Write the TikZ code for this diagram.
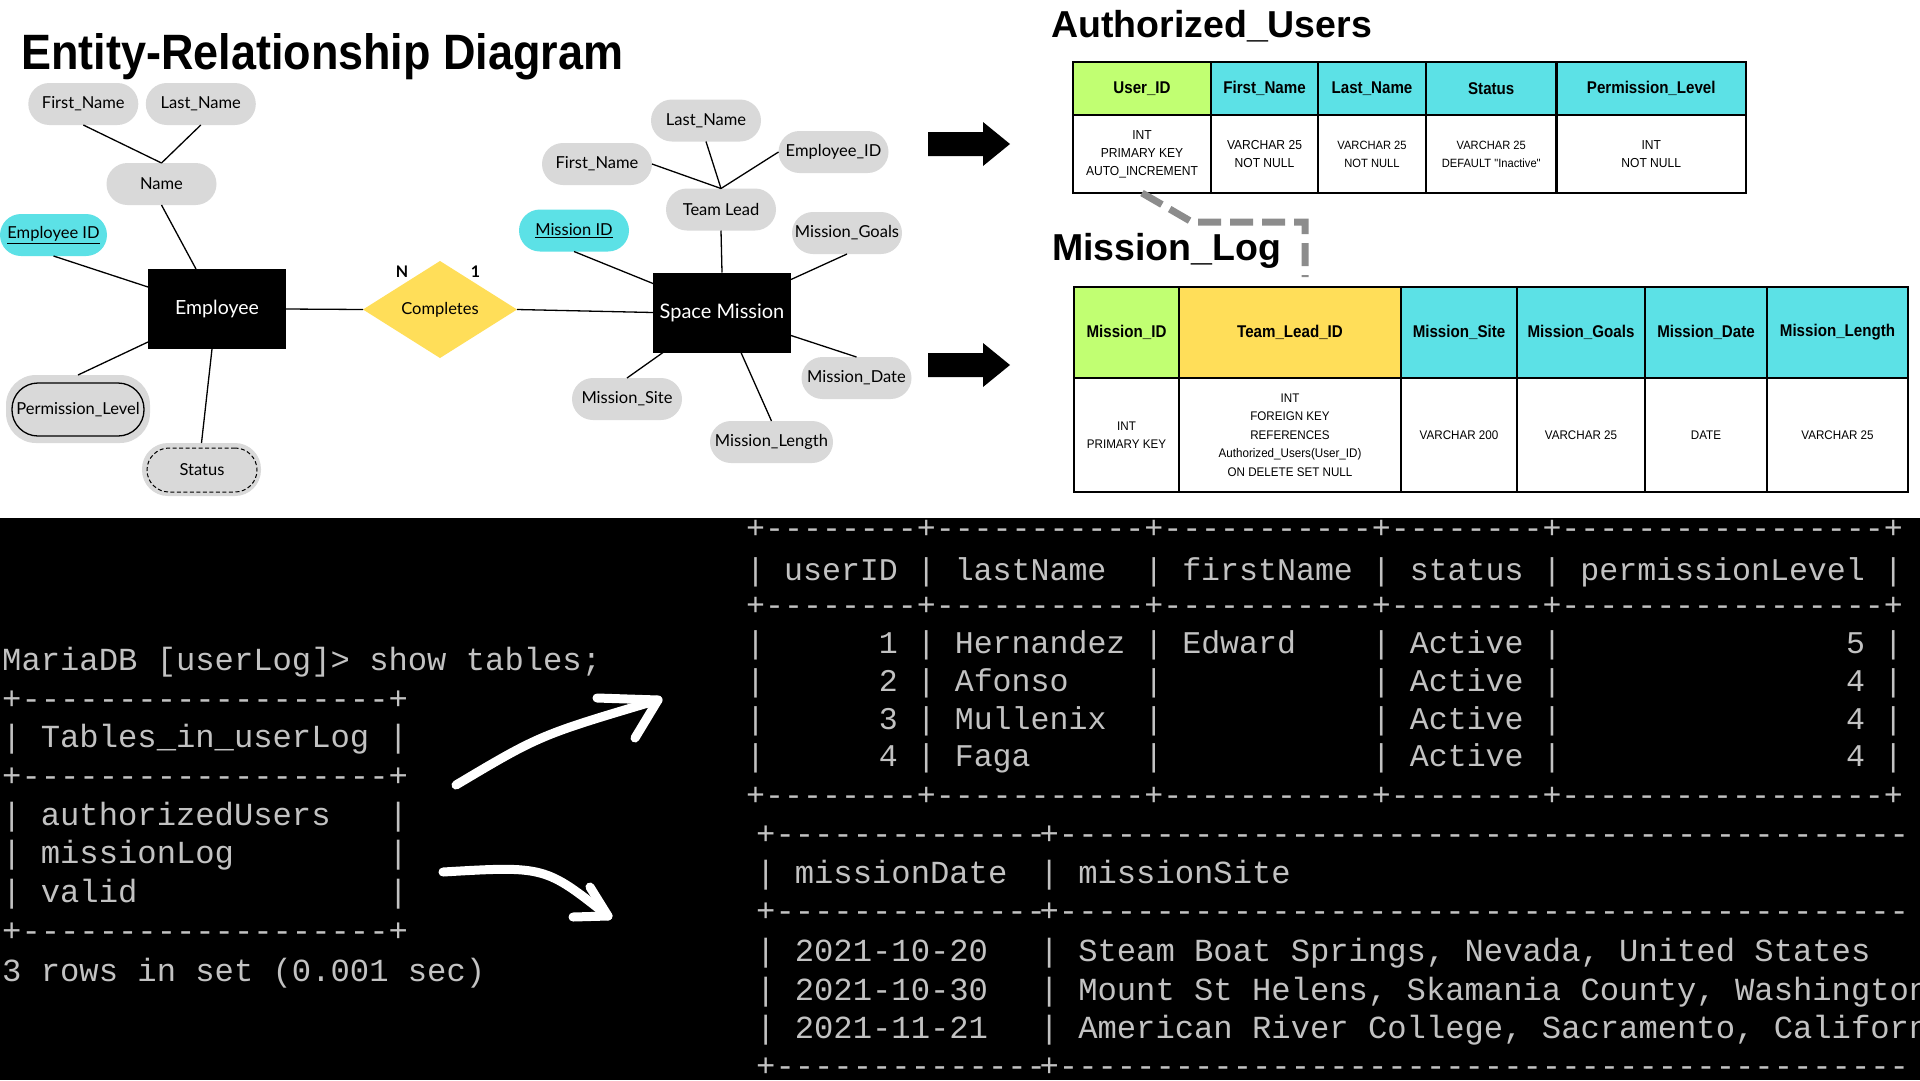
\documentclass[tikz,border=0pt]{standalone}
\usepackage{fontspec}
\usepackage{graphicx}
\usetikzlibrary{shapes.geometric}
\setmainfont{Liberation Sans}
\newfontfamily\erfont{Lato}
\newfontfamily\hdfont{Liberation Sans}[FakeStretch=0.89]
\newfontfamily\dtfont{Liberation Sans}[FakeStretch=0.93]
\newfontfamily\termfont{Liberation Mono}
\definecolor{ergray}{HTML}{D9D9D9}
\definecolor{ercyan}{HTML}{5CE1E6}
\definecolor{eryellow}{HTML}{FFDE59}
\definecolor{ergreen}{HTML}{C1FF72}
\definecolor{fkgray}{HTML}{8C8C8C}
\definecolor{termgray}{HTML}{C2C2C2}
\ExplSyntaxOn
\cs_new:Npn \dsh #1 { \prg_replicate:nn {#1} { -\kern0pt } }
\cs_new:Npn \spc #1 { \prg_replicate:nn {#1} { \nobreakspace } }
\ExplSyntaxOff
\frenchspacing
\begin{document}
\begin{tikzpicture}[x=1pt,y=-1pt,
  attr/.style={fill=ergray, rounded corners=21pt, minimum width=110pt, minimum height=42pt, inner sep=0pt, outer sep=0pt,
    font=\erfont\fontsize{16.5}{18}\selectfont},
  key/.style={attr, fill=ercyan},
  ent/.style={fill=black, text=white, minimum width=138pt, minimum height=80pt, inner sep=0pt, outer sep=0pt,
    font=\erfont\fontsize{19.5}{22}\selectfont},
  rel/.style={diamond, fill=eryellow, minimum width=154pt, minimum height=97pt, inner sep=0pt, outer sep=0pt,
    font=\erfont\fontsize{16.5}{18}\selectfont},
  card/.style={inner sep=0pt, font=\erfont\bfseries\fontsize{16}{18}\selectfont},
  conn/.style={draw=black, line width=1.3pt},
  cell/.style={draw=black, line width=2.5pt, anchor=north west, inner sep=0pt, outer sep=0pt, align=center},
  hcell/.style={cell, font=\hdfont\bfseries\fontsize{17}{20}\selectfont},
  dcell/.style={cell, fill=white, font=\dtfont\fontsize{13}{18}\selectfont},
  scell/.style={cell, fill=white, font=\dtfont\fontsize{12}{18}\selectfont},
  mcell/.style={cell, fill=white, font=\dtfont\fontsize{12.5}{18.4}\selectfont},
  fk/.style={draw=fkgray, line width=7pt, dash pattern=on 23pt off 9pt},
  blockarrow/.style={fill=black},
  warrow/.style={draw=white, line width=9pt, line cap=round, line join=round},
  termL/.style={anchor=base west, inner sep=0pt, text=termgray, font=\termfont\fontsize{32.2}{36}\selectfont},
  termR/.style={anchor=base west, inner sep=0pt, text=termgray, font=\termfont\fontsize{31.6}{36}\selectfont}
]
\useasboundingbox (0,0) rectangle (1920,1080);
\clip (0,0) rectangle (1920,1080);
\fill[white] (0,0) rectangle (1920,518);
\fill[black] (0,518) rectangle (1920,1080);

% ---------------- titles
\node[anchor=base west, inner sep=0pt] (ertitle) at (21,69) {\resizebox{602pt}{36pt}{\bfseries Entity-Relationship Diagram}};
\node[anchor=base west, inner sep=0pt, font=\bfseries\fontsize{37.5}{40}\selectfont] (autitle) at (1051,37) {Authorized\_Users};
\node[anchor=base west, inner sep=0pt, font=\bfseries\fontsize{37.5}{40}\selectfont] (mltitle) at (1052,260) {Mission\_Log};

% ---------------- ER: employee side
\node[attr] (fnL) at (83.3,104) {First\_Name};
\node[attr] (lnL) at (200.8,104) {Last\_Name};
\node[attr] (name) at (161.5,184) {Name};
\node[key, minimum width=107pt] (eid) at (53.5,235) {\underline{Employee ID}};
\node[ent] (emp) at (217,309) {Employee};
\node[rel] (rel) at (440,309.5) {Completes};
\node[card] (cardN) at (402,272) {N};
\node[card] (card1) at (475.5,272) {1};
\node[attr, minimum width=144pt, minimum height=68pt, rounded corners=30pt] (permO) at (78,409) {};
\node[attr, draw=black, line width=1.3pt, minimum width=132pt, minimum height=53pt, rounded corners=26pt] (perm) at (78,409.5) {Permission\_Level};
\node[attr, minimum width=119pt, minimum height=53pt, rounded corners=26pt] (statO) at (201.5,469.5) {};
\node[attr, draw=black, line width=1pt, dash pattern=on 4pt off 2.5pt, minimum width=110pt, minimum height=44pt, rounded corners=22pt] (stat) at (202,470) {Status};

% ---------------- ER: mission side
\node[attr] (lnR) at (706,120.5) {Last\_Name};
\node[attr] (fnR) at (597,164) {First\_Name};
\node[attr] (eidR) at (833.5,152) {Employee\_ID};
\node[attr] (tl) at (721,209.5) {Team Lead};
\node[key] (mid) at (574,230.5) {\underline{Mission ID}};
\node[ent, font=\erfont\fontsize{20}{22}\selectfont] (sm) at (722,312.5) {Space Mission};
\node[attr] (mg) at (847,233) {Mission\_Goals};
\node[attr] (md) at (856.5,378) {Mission\_Date};
\node[attr] (ms) at (627,399) {Mission\_Site};
\node[attr, minimum width=123pt] (ml) at (771.5,442) {Mission\_Length};

% ---------------- ER connectors
\draw[conn] (fnL.south) -- (name.north);
\draw[conn] (lnL.south) -- (name.north);
\draw[conn] (name.south) -- ([xshift=48pt]emp.north west);
\draw[conn] (eid.south) -- ([yshift=-18pt]emp.north west);
\draw[conn] (permO.north) -- ([yshift=7pt]emp.south west);
\draw[conn] (statO.north) -- ([xshift=64pt]emp.south west);
\draw[conn] (emp.east) -- (rel.west);
\draw[conn] (rel.east) -- (sm.west);
\draw[conn] (fnR.east) -- (tl.north);
\draw[conn] (lnR.south) -- (tl.north);
\draw[conn] (eidR.west) -- (tl.north);
\draw[conn] (tl.south) -- (sm.north);
\draw[conn] (mid.south) -- ([yshift=-11pt]sm.north west);
\draw[conn] (mg.south) -- ([yshift=-7pt]sm.north east);
\draw[conn] (md.north) -- ([yshift=17pt]sm.south east);
\draw[conn] (ms.north) -- ([xshift=10pt]sm.south west);
\draw[conn] (ml.north) -- ([xshift=88pt]sm.south west);

% ---------------- block arrows
\fill[blockarrow] (928,132) -- (983,132) -- (983,122) -- (1010,144) -- (983,166) -- (983,156) -- (928,156) -- cycle;
\fill[blockarrow] (928,353) -- (983,353) -- (983,343) -- (1010,365) -- (983,387) -- (983,377) -- (928,377) -- cycle;

% ---------------- Authorized_Users table
\node[hcell, fill=ergreen, minimum width=138pt, minimum height=53pt] (auH1) at (1073,62) {User\_ID};
\node[hcell, fill=ercyan, minimum width=107pt, minimum height=53pt] (auH2) at (1211,62) {First\_Name};
\node[hcell, fill=ercyan, minimum width=108pt, minimum height=53pt] (auH3) at (1318,62) {Last\_Name};
\node[hcell, fill=ercyan, minimum width=130.5pt, minimum height=53pt] (auH4) at (1426,62) {Status};
\node[hcell, fill=ercyan, minimum width=189.5pt, minimum height=53pt] (auH5) at (1556.5,62) {Permission\_Level};
\node[dcell, minimum width=138pt, minimum height=78pt] (auD1) at (1073,115) {INT\\PRIMARY KEY\\AUTO\_INCREMENT};
\node[dcell, minimum width=107pt, minimum height=78pt] (auD2) at (1211,115) {VARCHAR 25\\NOT NULL};
\node[scell, minimum width=108pt, minimum height=78pt] (auD3) at (1318,115) {VARCHAR 25\\NOT NULL};
\node[scell, minimum width=130.5pt, minimum height=78pt] (auD4) at (1426,115) {VARCHAR 25\\DEFAULT "Inactive"};
\node[dcell, minimum width=189.5pt, minimum height=78pt] (auD5) at (1556.5,115) {INT\\NOT NULL};

% ---------------- foreign key connector
\coordinate (fkEnd) at (1305,277);
\draw[fk] (auD1.south) -- ++(50,29) -| (fkEnd);

% ---------------- Mission_Log table
\node[hcell, fill=ergreen, minimum width=105pt, minimum height=91pt] (mlH1) at (1074,287) {Mission\_ID};
\node[hcell, fill=eryellow, minimum width=222pt, minimum height=91pt] (mlH2) at (1179,287) {Team\_Lead\_ID};
\node[hcell, fill=ercyan, minimum width=116pt, minimum height=91pt] (mlH3) at (1401,287) {Mission\_Site};
\node[hcell, fill=ercyan, minimum width=128pt, minimum height=91pt] (mlH4) at (1517,287) {Mission\_Goals};
\node[hcell, fill=ercyan, minimum width=122pt, minimum height=91pt] (mlH5) at (1645,287) {Mission\_Date};
\node[hcell, fill=ercyan, minimum width=141pt, minimum height=91pt] (mlH6) at (1767,287) {Mission\_Length};
\node[mcell, minimum width=105pt, minimum height=114pt] (mlD1) at (1074,378) {INT\\PRIMARY KEY};
\node[mcell, minimum width=222pt, minimum height=114pt] (mlD2) at (1179,378) {INT\\FOREIGN KEY\\REFERENCES\\Authorized\_Users(User\_ID)\\ON DELETE SET NULL};
\node[mcell, minimum width=116pt, minimum height=114pt] (mlD3) at (1401,378) {VARCHAR 200};
\node[mcell, minimum width=128pt, minimum height=114pt] (mlD4) at (1517,378) {VARCHAR 25};
\node[mcell, minimum width=122pt, minimum height=114pt] (mlD5) at (1645,378) {DATE};
\node[mcell, minimum width=141pt, minimum height=114pt] (mlD6) at (1767,378) {VARCHAR 25};

% ---------------- left terminal
\node[termL] (tL1) at (2,670) {MariaDB [userLog]> show tables;};
\node[termL] (tL2) at (2,709) {+\dsh{19}+};
\node[termL] (tL3) at (2,747) {| Tables\_in\_userLog |};
\node[termL] (tL4) at (2,786) {+\dsh{19}+};
\node[termL] (tL5) at (2,825) {| authorizedUsers\spc{3}|};
\node[termL] (tL6) at (2,863) {| missionLog\spc{8}|};
\node[termL] (tL7) at (2,902) {| valid\spc{13}|};
\node[termL] (tL8) at (2,941) {+\dsh{19}+};
\node[termL] (tL9) at (2,981) {3 rows in set (0.001 sec)};

% ---------------- white arrows
\coordinate (wa1s) at (456,785);
\coordinate (wa1e) at (658,700);
\draw[warrow] (wa1s) .. controls (540,735) .. (wa1e);
\draw[warrow] (597,698) -- (wa1e) -- (635,738);
\coordinate (wa2s) at (443,872);
\coordinate (wa2e) at (608,916);
\draw[warrow] (wa2s) .. controls (545,866) .. (wa2e);
\draw[warrow] (590,887) -- (wa2e) -- (573,917);

% ---------------- right terminal: users
\node[termR] (tR1) at (746,538) {+\dsh{8}+\dsh{11}+\dsh{11}+\dsh{8}+\dsh{17}+};
\node[termR] (tR2) at (746,580) {| userID | lastName\spc{2}| firstName | status | permissionLevel |};
\node[termR] (tR3) at (746,615) {+\dsh{8}+\dsh{11}+\dsh{11}+\dsh{8}+\dsh{17}+};
\node[termR] (tR4) at (746,653) {|\spc{6}1 | Hernandez | Edward\spc{4}| Active |\spc{15}5 |};
\node[termR] (tR5) at (746,691) {|\spc{6}2 | Afonso\spc{4}|\spc{11}| Active |\spc{15}4 |};
\node[termR] (tR6) at (746,729) {|\spc{6}3 | Mullenix\spc{2}|\spc{11}| Active |\spc{15}4 |};
\node[termR] (tR7) at (746,766) {|\spc{6}4 | Faga\spc{6}|\spc{11}| Active |\spc{15}4 |};
\node[termR] (tR8) at (746,805) {+\dsh{8}+\dsh{11}+\dsh{11}+\dsh{8}+\dsh{17}+};

% ---------------- right terminal: missions
\node[termL] (mA1) at (756,844) {+\dsh{14}};
\node[termL] (mB1) at (1039.4,844) {+\dsh{44}};
\node[termL] (mA2) at (756,883) {| missionDate};
\node[termL] (mB2) at (1039.4,883) {| missionSite};
\node[termL] (mA3) at (756,921) {+\dsh{14}};
\node[termL] (mB3) at (1039.4,921) {+\dsh{44}};
\node[termL] (mA4) at (756,961) {| 2021-10-20};
\node[termL] (mB4) at (1039.4,961) {| Steam Boat Springs, Nevada, United States};
\node[termL] (mA5) at (756,1000) {| 2021-10-30};
\node[termL] (mB5) at (1039.4,1000) {| Mount St Helens, Skamania County, Washington};
\node[termL] (mA6) at (756,1038) {| 2021-11-21};
\node[termL] (mB6) at (1039.4,1038) {| American River College, Sacramento, California};
\node[termL] (mA7) at (756,1076) {+\dsh{14}};
\node[termL] (mB7) at (1039.4,1076) {+\dsh{44}};
\end{tikzpicture}
\end{document}
